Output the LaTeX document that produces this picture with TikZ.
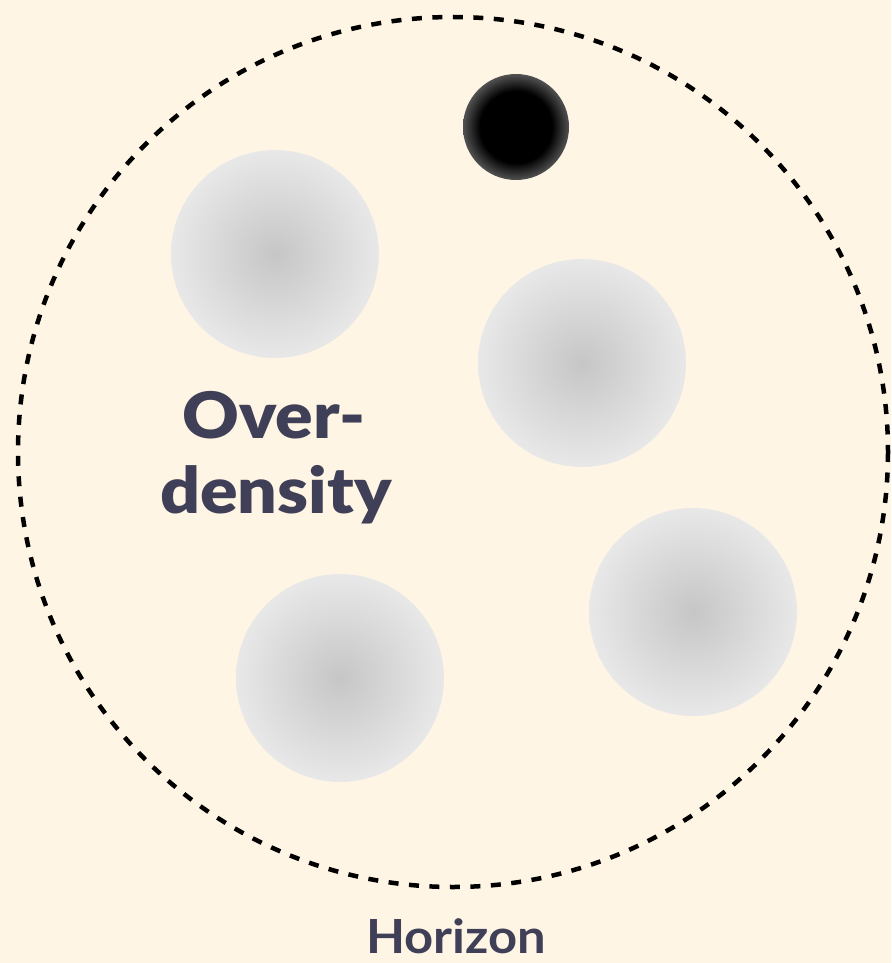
\documentclass[tikz,border=0pt]{standalone}
\usepackage{fontspec}
\setsansfont{Lato}[BoldFont={Lato Black}]
\newfontfamily\hzmoyen{Lato}
\usepackage{tikz}
\usetikzlibrary{positioning}
\definecolor{hzfond}{HTML}{FFF5E4}
\definecolor{hztexte}{HTML}{3F4058}
\definecolor{hzgris}{HTML}{C6C6C6}
\definecolor{hzgrispale}{HTML}{E8E8E8}
\pgfdeclareradialshading{hztrou}{\pgfpoint{0bp}{0bp}}{color(0bp)=(black); color(17bp)=(black); color(25bp)=(black!68); color(50bp)=(black!68)}

\begin{document}
\begin{tikzpicture}[x=1pt,y=-1pt,font=\sffamily\bfseries]
  % fond
  \fill[hzfond] (0,0) rectangle (891,963);
  % surdensites : x / y
  \foreach \x/\y in {275/254, 582/363, 693/612, 340/678} {
    \shade[inner color=hzgris, outer color=hzgrispale] (\x,\y) circle (104);
  }
  % trou noir
  \shade[shading=hztrou] (516,127) circle (53);
  % horizon
  \draw[black, line width=4.5pt, dash pattern=on 10pt off 10.5pt] (453,452) circle (435);
  \node[hztexte, anchor=base, xscale=1.09, font=\sffamily\bfseries\fontsize{64}{74}\selectfont] (over) at (274,438) {Over-};
  \node[hztexte, anchor=base, xscale=1.09, font=\sffamily\bfseries\fontsize{64}{74}\selectfont] (dens) at (276,513) {density};
  \node[hztexte, anchor=base, xscale=1.08, font=\hzmoyen\bfseries\fontsize{47}{56}\selectfont] (horizon) at (456,953) {Horizon};
\end{tikzpicture}
\end{document}
